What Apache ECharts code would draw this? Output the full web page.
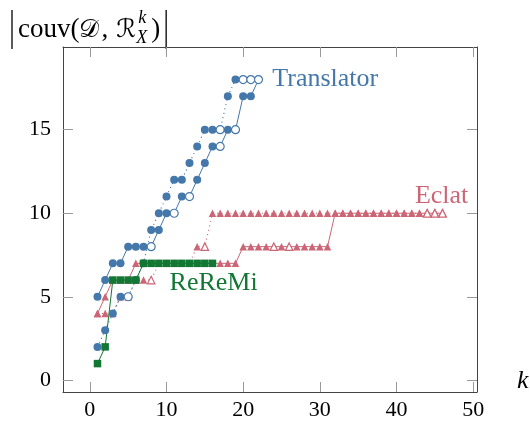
<!DOCTYPE html>
<html><head><meta charset="utf-8">
<script src="https://cdn.jsdelivr.net/npm/echarts@6/dist/echarts.min.js"></script>
<style>html,body{margin:0;padding:0;background:#fff}#c{width:530px;height:421px}</style>
</head><body><div id="c"></div>
<script>
// ---- data ----
const xTicks = [0, 10, 20, 30, 40, 50];
const yTicks = [0, 5, 10, 15];

const translatorSolidK = [1,2,3,4,5,6,7,8,9,10,11,12,13,14,15,16,17,18,19,20,21,22];
const translatorSolidV = [5,6,7,7,8,8,8,8,9,10,10,11,11,12,13,14,14,15,15,17,17,18];
const translatorSolidOpen = [8,11,13,17,19,22];

const translatorDotK = [1,2,3,4,5,6,7,8,9,10,11,12,13,14,15,16,17,18,19,20,21];
const translatorDotV = [2,3,4,5,5,6,7,9,10,11,12,12,13,14,15,15,15,17,18,18,18];
const translatorDotOpen = [5,17,20,21];

const eclatSolidK = [1,2,3,4,5,6,7,8,9,10,11,12,13,14,15,16,17,18,19,20,21,22,23,24,25,26,27,28,29,30,31,32,33,34,35,36,37,38,39,40,41,42,43,44,45,46];
const eclatSolidV = [4,5,6,6,6,7,7,7,7,7,7,7,7,7,7,7,7,7,7,8,8,8,8,8,8,8,8,8,8,8,8,10,10,10,10,10,10,10,10,10,10,10,10,10,10,10];
const eclatSolidOpen = [24,26,44,45,46];

const eclatDotK = [1,2,3,4,5,6,7,8,9,10,11,12,13,14,15,16,17,18,19,20,21,22,23,24,25,26,27,28,29,30,31,32,33,34,35,36,37,38,39,40,41,42,43,44,45,46];
const eclatDotV = [4,4,4,5,5,6,6,6,7,7,7,7,7,8,8,10,10,10,10,10,10,10,10,10,10,10,10,10,10,10,10,10,10,10,10,10,10,10,10,10,10,10,10,10,10,10];
const eclatDotOpen = [8,15,44,45,46];

const reremiK = [1,2,3,4,5,6,7,8,9,10,11,12,13,14,15,16];
const reremiV = [1,2,6,6,6,6,7,7,7,7,7,7,7,7,7,7];

const labels = [
  {text: 'Translator', k: 23.8, v: 18, color: '#4477AA'},
  {text: 'Eclat', k: 42.4, v: 11.0, color: '#CC6677'},
  {text: 'ReReMi', k: 10.4, v: 5.8, color: '#117733'}
];

// ---- chart ----
const BLUE = '#4477AA', RED = '#CC6677', GREEN = '#117733';
const SERIF = '"Liberation Serif", "DejaVu Serif", serif';

function mk(ks, vs, open, color) {
  return ks.map((k, i) => open.indexOf(k) >= 0
    ? {value: [k, vs[i]], itemStyle: {color: '#fff', borderColor: color, borderWidth: 1.2}}
    : {value: [k, vs[i]]});
}

function lineSeries(data, color, symbol, size, dotted) {
  return {
    type: 'line', data: data, symbol: symbol, symbolSize: size,
    showAllSymbol: true, xAxisIndex: 0, yAxisIndex: 0,
    lineStyle: {color: color, width: dotted ? 1.2 : 1, type: dotted ? [1, 3.5] : 'solid'},
    itemStyle: {color: color, borderWidth: 0},
    emphasis: {disabled: true}, silent: true
  };
}

const chart = echarts.init(document.getElementById('c'), null, {renderer: 'canvas'});

const axisCommon = {
  type: 'value',
  axisLine: {show: true, onZero: false, lineStyle: {color: '#444', width: 1}},
  splitLine: {show: false}
};
const tickStyle = {show: true, inside: true, length: 10, lineStyle: {color: '#999', width: 1}};

chart.setOption({
  animation: false,
  grid: {left: 63, right: 53, top: 47, bottom: 29, containLabel: false, outerBoundsMode: 'none'},
  xAxis: [
    Object.assign({}, axisCommon, {min: -3.5, max: 50.5, position: 'bottom',
      axisTick: Object.assign({customValues: xTicks}, tickStyle),
      axisLabel: {customValues: xTicks, fontFamily: SERIF, fontSize: 22, color: '#000', margin: 7}}),
    Object.assign({}, axisCommon, {min: -3.5, max: 50.5, position: 'top',
      axisTick: Object.assign({customValues: xTicks}, tickStyle),
      axisLabel: {show: false}})
  ],
  yAxis: [
    Object.assign({}, axisCommon, {min: -0.7, max: 19.95, position: 'left',
      axisTick: Object.assign({customValues: yTicks}, tickStyle),
      axisLabel: {customValues: yTicks, fontFamily: SERIF, fontSize: 22, color: '#000', margin: 12}}),
    Object.assign({}, axisCommon, {min: -0.7, max: 19.95, position: 'right',
      axisTick: Object.assign({customValues: yTicks}, tickStyle),
      axisLabel: {show: false}})
  ],
  series: [
    lineSeries(mk(eclatDotK, eclatDotV, eclatDotOpen, RED), RED, 'triangle', 7.5, true),
    lineSeries(mk(eclatSolidK, eclatSolidV, eclatSolidOpen, RED), RED, 'triangle', 7.5, false),
    lineSeries(mk(translatorDotK, translatorDotV, translatorDotOpen, BLUE), BLUE, 'circle', 8, true),
    lineSeries(mk(translatorSolidK, translatorSolidV, translatorSolidOpen, BLUE), BLUE, 'circle', 8, false),
    lineSeries(mk(reremiK, reremiV, [], GREEN), GREEN, 'rect', 7.5, false)
  ]
});

// annotations placed at data coordinates
const g = [];
labels.forEach(l => {
  const p = chart.convertToPixel({xAxisIndex: 0, yAxisIndex: 0}, [l.k, l.v]);
  g.push({type: 'text', x: p[0], y: p[1], silent: true,
    style: {text: l.text, fill: l.color, font: '26px ' + SERIF, textAlign: 'left', textVerticalAlign: 'middle'}});
});
// axis name k
const kp = chart.convertToPixel({xAxisIndex: 0, yAxisIndex: 0}, [50.5, 0]);
g.push({type: 'text', x: kp[0] + 40, y: kp[1] + 1, silent: true,
  style: {text: 'k', fill: '#000', font: 'italic 26px ' + SERIF, textAlign: 'left', textVerticalAlign: 'middle'}});

// y axis title |couv(D, R^k_X)|  laid out left to right by measured widths
const mctx = document.createElement('canvas').getContext('2d');
function w(text, font) { mctx.font = font; return mctx.measureText(text).width; }
const F = '27px ' + SERIF, FC = '25px "DejaVu Sans", serif', FS = 'italic 18px ' + SERIF;
const ty = 30;
let x = 18;
const parts = [
  {t: 'couv(', f: F, gap: 0},
  {t: '\uD835\uDC9F', f: FC, gap: 2},
  {t: ',', f: F, gap: 8},
  {t: '\u211B', f: FC, gap: 1}
];
parts.forEach(p => {
  g.push({type: 'text', x: x, y: ty, silent: true, style: {text: p.t, fill: '#000', font: p.f, textVerticalAlign: 'middle'}});
  x += w(p.t, p.f) + p.gap;
});
g.push({type: 'text', x: x + 1, y: 18, silent: true, style: {text: 'k', fill: '#000', font: FS, textVerticalAlign: 'middle'}});
g.push({type: 'text', x: x - 1, y: 38, silent: true, style: {text: 'X', fill: '#000', font: FS, textVerticalAlign: 'middle'}});
x += Math.max(w('k', FS) + 1, w('X', FS) - 1) + 4;
g.push({type: 'text', x: x, y: ty, silent: true, style: {text: ')', fill: '#000', font: F, textVerticalAlign: 'middle'}});
x += w(')', F) + 6;
g.push({type: 'line', silent: true, shape: {x1: 12, y1: 10, x2: 12, y2: 49}, style: {stroke: '#000', lineWidth: 1.3}});
g.push({type: 'line', silent: true, shape: {x1: x, y1: 10, x2: x, y2: 49}, style: {stroke: '#000', lineWidth: 1.3}});

chart.setOption({graphic: g});
</script></body></html>
